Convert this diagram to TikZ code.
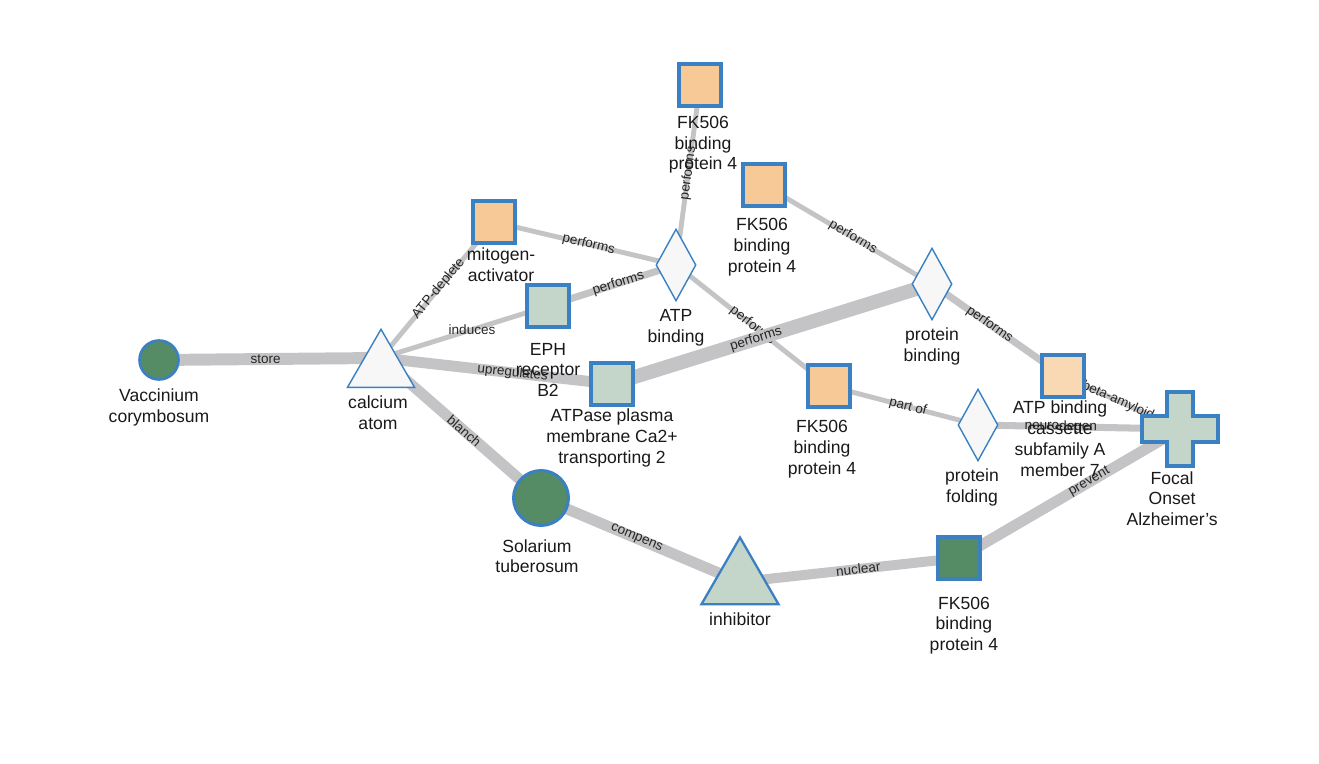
\documentclass[tikz,border=0pt]{standalone}
\usepackage{fontspec}
\setmainfont{Liberation Sans}
\usetikzlibrary{positioning, shapes.geometric, backgrounds, calc}
\definecolor{nodeblue}{RGB}{58,128,195}
\definecolor{edgegray}{RGB}{196,196,198}
\definecolor{protorange}{RGB}{247,201,150}
\definecolor{paleorange}{RGB}{249,216,180}
\definecolor{sagegreen}{RGB}{196,213,202}
\definecolor{plantgreen}{RGB}{85,139,101}
\definecolor{shapewhite}{RGB}{247,247,247}

\begin{document}
\begin{tikzpicture}[x=0.02cm, y=-0.02cm,
  lbl/.style={font=\fontsize{10}{11.9}\selectfont, align=center, inner sep=0pt, text=black!90},
  elbl/.style={font=\fontsize{7.7}{8}\selectfont, inner sep=0pt, sloped, text=black!85},
  relation/.style={draw=edgegray, line width=#1},
  protsq/.style={rectangle, draw=nodeblue, line width=1.8pt, minimum size=0.84cm, inner sep=0pt, fill=#1},
  plant/.style={circle, draw=nodeblue, line width=1.5pt, fill=plantgreen, inner sep=0pt},
  funct/.style={diamond, draw=nodeblue, line width=0.8pt, fill=shapewhite, inner sep=0pt, aspect=0.55,
    minimum width=0.8cm, minimum height=1.44cm},
  chem/.style={regular polygon, regular polygon sides=3, draw=nodeblue, inner sep=0pt}]
  \useasboundingbox (0,0) rectangle (1319,764);

  % entities
  \node[plant, minimum size=0.78cm] (vac) at (159,360) {};
  \node[chem, fill=shapewhite, line width=0.8pt, minimum size=1.55cm] (calc) at (381,368) {};
  \node[protsq=protorange] (mito) at (494,222) {};
  \node[protsq=sagegreen] (eph) at (548,306) {};
  \node[protsq=sagegreen] (atpase) at (612,384) {};
  \node[funct] (atpb) at (676,265) {};
  \node[protsq=protorange] (fktop) at (700,85) {};
  \node[protsq=protorange] (fkmid) at (764,185) {};
  \node[funct] (pbind) at (932,284) {};
  \node[protsq=protorange] (fkthree) at (829,386) {};
  \node[funct] (pfold) at (978,425) {};
  \node[protsq=paleorange] (abca) at (1063,376) {};
  \node[rectangle, minimum width=1.52cm, minimum height=1.48cm, inner sep=0pt, outer sep=0pt] (alz) at (1180,429) {};
  \filldraw[draw=nodeblue, fill=sagegreen, line width=1.8pt] (alz.center) ++(-13,-37) -- ++(26,0) -- ++(0,24)
    -- ++(25,0) -- ++(0,26) -- ++(-25,0) -- ++(0,24) -- ++(-26,0) -- ++(0,-24) -- ++(-25,0) -- ++(0,-26)
    -- ++(25,0) -- cycle;
  \node[plant, minimum size=1.1cm, line width=1.7pt] (sol) at (541,498) {};
  \node[chem, fill=sagegreen, line width=1.3pt, minimum size=1.78cm] (inhib) at (740,582) {};
  \node[protsq=plantgreen] (fkbot) at (959,558) {};

  % labels
  \node[lbl, below=4.5pt of vac] (vac-l) {Vaccinium\\corymbosum};
  \node[lbl, below=4pt of calc, xshift=-1.7pt] (calc-l) {calcium\\atom};
  \node[lbl, below=1.7pt of mito, xshift=4pt] (mito-l) {mitogen-\\activator};
  \node[lbl, below=8pt of eph] (eph-l) {EPH\\receptor\\B2};
  \node[lbl, below=1.1pt of atpase] (atpase-l) {ATPase plasma\\membrane Ca2+\\transporting 2};
  \node[lbl, below=4pt of atpb] (atpb-l) {ATP\\binding};
  \node[lbl, below=4.5pt of fktop, xshift=1.7pt] (fktop-l) {FK506\\binding\\protein 4};
  \node[lbl, below=5.7pt of fkmid, xshift=-1.1pt] (fkmid-l) {FK506\\binding\\protein 4};
  \node[lbl, below=4pt of pbind] (pbind-l) {protein\\binding};
  \node[lbl, below=6.3pt of fkthree, xshift=-4pt] (fkthree-l) {FK506\\binding\\protein 4};
  \node[lbl, below=4pt of pfold, xshift=-3.4pt] (pfold-l) {protein\\folding};
  \node[lbl, below=1.1pt of abca, xshift=-1.7pt] (abca-l) {ATP binding\\cassette\\subfamily A\\member 7};
  \node[lbl, below=2.8pt of alz, xshift=-4.5pt] (alz-l) {Focal\\Onset\\Alzheimer’s};
  \node[lbl, below=6.8pt of sol, xshift=-2.3pt] (sol-l) {Solarium\\tuberosum};
  \node[lbl, below=4pt of inhib] (inhib-l) {inhibitor};
  \node[lbl, below=9pt of fkbot, xshift=2.8pt] (fkbot-l) {FK506\\binding\\protein 4};

  % relations, under the entities
  \begin{scope}[on background layer]
    \coordinate (calc-m) at ($(calc.north)!.5!(calc.south)$);
    \draw[relation=6.8pt] (vac.center) -- node[elbl, pos=.48] {store} (calc-m);
    \draw[relation=2.8pt] (calc-m) -- node[elbl, pos=.51] {ATP-deplete} (mito.center);
    \draw[relation=2.8pt] (calc-m) -- node[elbl, pos=.545, sloped=false] {induces} (eph.center);
    \draw[relation=6.2pt] (calc-m) -- node[elbl, pos=.57] {upregulates} (atpase.center);
    \draw[relation=6.2pt] (calc-m) -- node[elbl, pos=.52] {blanch} (sol.center);
    \draw[relation=2.8pt] (mito.center) -- node[elbl, pos=.52] {performs} (atpb.center);
    \draw[relation=4pt] (eph.center) -- node[elbl, pos=.55] {performs} (atpb.center);
    \draw[relation=2.8pt] (fktop.center) -- node[elbl, pos=.49] {performs} (atpb.center);
    \draw[relation=2.8pt] (atpb.center) -- node[elbl, pos=.5] {performs} (fkthree.center);
    \draw[relation=8pt] (atpase.center) -- node[elbl, pos=.45] {performs} (pbind.center);
    \draw[relation=2.8pt] (fkmid.center) -- node[elbl, pos=.53] {performs} (pbind.center);
    \draw[relation=4pt] (pbind.center) -- node[elbl, pos=.44] {performs} (abca.center);
    \draw[relation=2.8pt] (fkthree.center) -- node[elbl, pos=.53] {part of} (pfold.center);
    \draw[relation=4pt] (pfold.center) -- node[elbl, pos=.41] {neurodegen} (alz.center);
    \draw[relation=2.8pt] (abca.center) -- node[elbl, pos=.47] {beta-amyloid} (alz.center);
    \draw[relation=6.2pt] (sol.center) -- node[elbl, pos=.48] {compens} (inhib.center);
    \draw[relation=5.7pt] (inhib.center) -- node[elbl, pos=.54] {nuclear} (fkbot.center);
    \draw[relation=6.2pt] (fkbot.center) -- node[elbl, pos=.59] {prevent} (alz.center);
  \end{scope}
\end{tikzpicture}
\end{document}
